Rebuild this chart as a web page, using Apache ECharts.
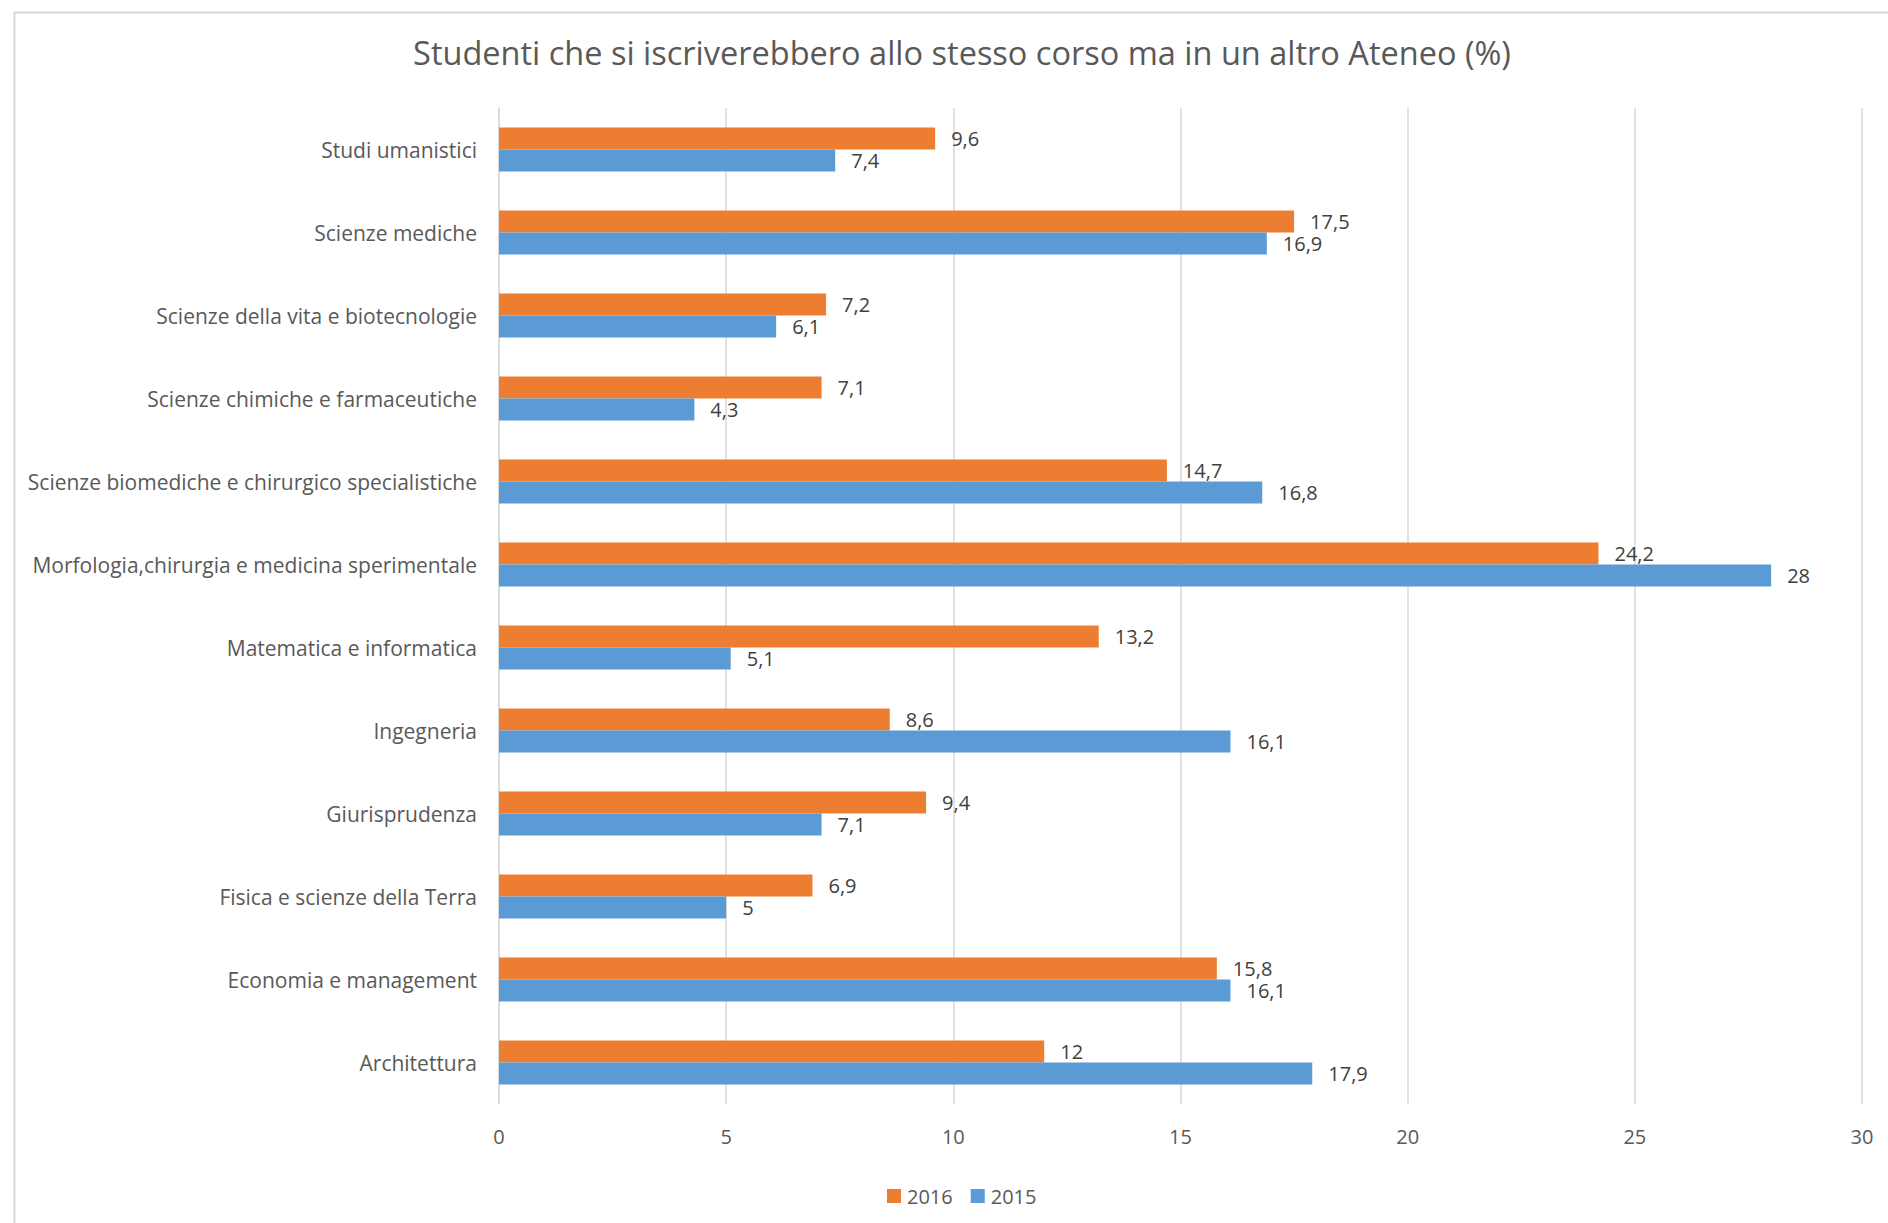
<!DOCTYPE html>
<html>
<head>
<meta charset="utf-8">
<script src="https://cdn.jsdelivr.net/npm/echarts@6/dist/echarts.min.js"></script>
<style>
html,body{margin:0;padding:0;background:#fff;}
#chart{width:1888px;height:1223px;}
</style>
</head>
<body>
<div id="chart"></div>
<script>
const titleText = 'Studenti che si iscriverebbero allo stesso corso ma in un altro Ateneo (%)';
const categories = [
  'Architettura',
  'Economia e management',
  'Fisica e scienze della Terra',
  'Giurisprudenza',
  'Ingegneria',
  'Matematica e informatica',
  'Morfologia,chirurgia e medicina sperimentale',
  'Scienze biomediche e chirurgico specialistiche',
  'Scienze chimiche e farmaceutiche',
  'Scienze della vita e biotecnologie',
  'Scienze mediche',
  'Studi umanistici'
];
const values2016 = [12, 15.8, 6.9, 9.4, 8.6, 13.2, 24.2, 14.7, 7.1, 7.2, 17.5, 9.6];
const values2015 = [17.9, 16.1, 5, 7.1, 16.1, 5.1, 28, 16.8, 4.3, 6.1, 16.9, 7.4];
const xMin = 0, xMax = 30, xStep = 5;

const FONT = '"Open Sans", Lato, sans-serif';
const chart = echarts.init(document.getElementById('chart'), null, {renderer: 'svg'});
const fmt = p => String(p.value).replace('.', ',');
chart.setOption({
  backgroundColor: '#ffffff',
  animation: false,
  graphic: [{
    type: 'rect', left: 12, top: 10, silent: true,
    shape: {width: 1900, height: 1300},
    style: {fill: 'none', stroke: '#D9D9D9', lineWidth: 2}
  }],
  title: {
    text: titleText,
    left: 957, top: 31, textAlign: 'center',
    textStyle: {fontFamily: FONT, fontSize: 32.5, fontWeight: 'normal', color: '#595959'}
  },
  legend: {
    data: ['2016', '2015'],
    left: 882, top: 1181,
    itemWidth: 14, itemHeight: 14, itemGap: 18,
    icon: 'rect',
    textStyle: {fontFamily: FONT, fontSize: 20, color: '#595959', padding: [0, 0, 0, 1]}
  },
  grid: {left: 499, right: 26, top: 108, bottom: 119, containLabel: false},
  xAxis: {
    type: 'value', min: xMin, max: xMax, interval: xStep,
    axisLine: {show: false}, axisTick: {show: false},
    splitLine: {show: true, lineStyle: {color: '#D9D9D9', width: 1.5}},
    axisLabel: {fontFamily: FONT, fontSize: 20, color: '#595959', margin: 22}
  },
  yAxis: {
    type: 'category', data: categories,
    axisLine: {show: true, lineStyle: {color: '#D9D9D9', width: 1.5}},
    axisTick: {show: false},
    axisLabel: {fontFamily: FONT, fontSize: 21, color: '#595959', margin: 22}
  },
  series: [
    {
      name: '2016', type: 'bar', data: values2016,
      barWidth: 22, barGap: '0%',
      itemStyle: {color: '#ED7D31'},
      label: {show: true, position: 'right', distance: 16, formatter: fmt,
        fontFamily: FONT, fontSize: 20, lineHeight: 20, color: '#404040'}
    },
    {
      name: '2015', type: 'bar', data: values2015,
      barWidth: 22, barGap: '0%',
      itemStyle: {color: '#5B9BD5'},
      label: {show: true, position: 'right', distance: 16, formatter: fmt,
        fontFamily: FONT, fontSize: 20, lineHeight: 20, color: '#404040'}
    }
  ]
});
</script>
</body>
</html>
